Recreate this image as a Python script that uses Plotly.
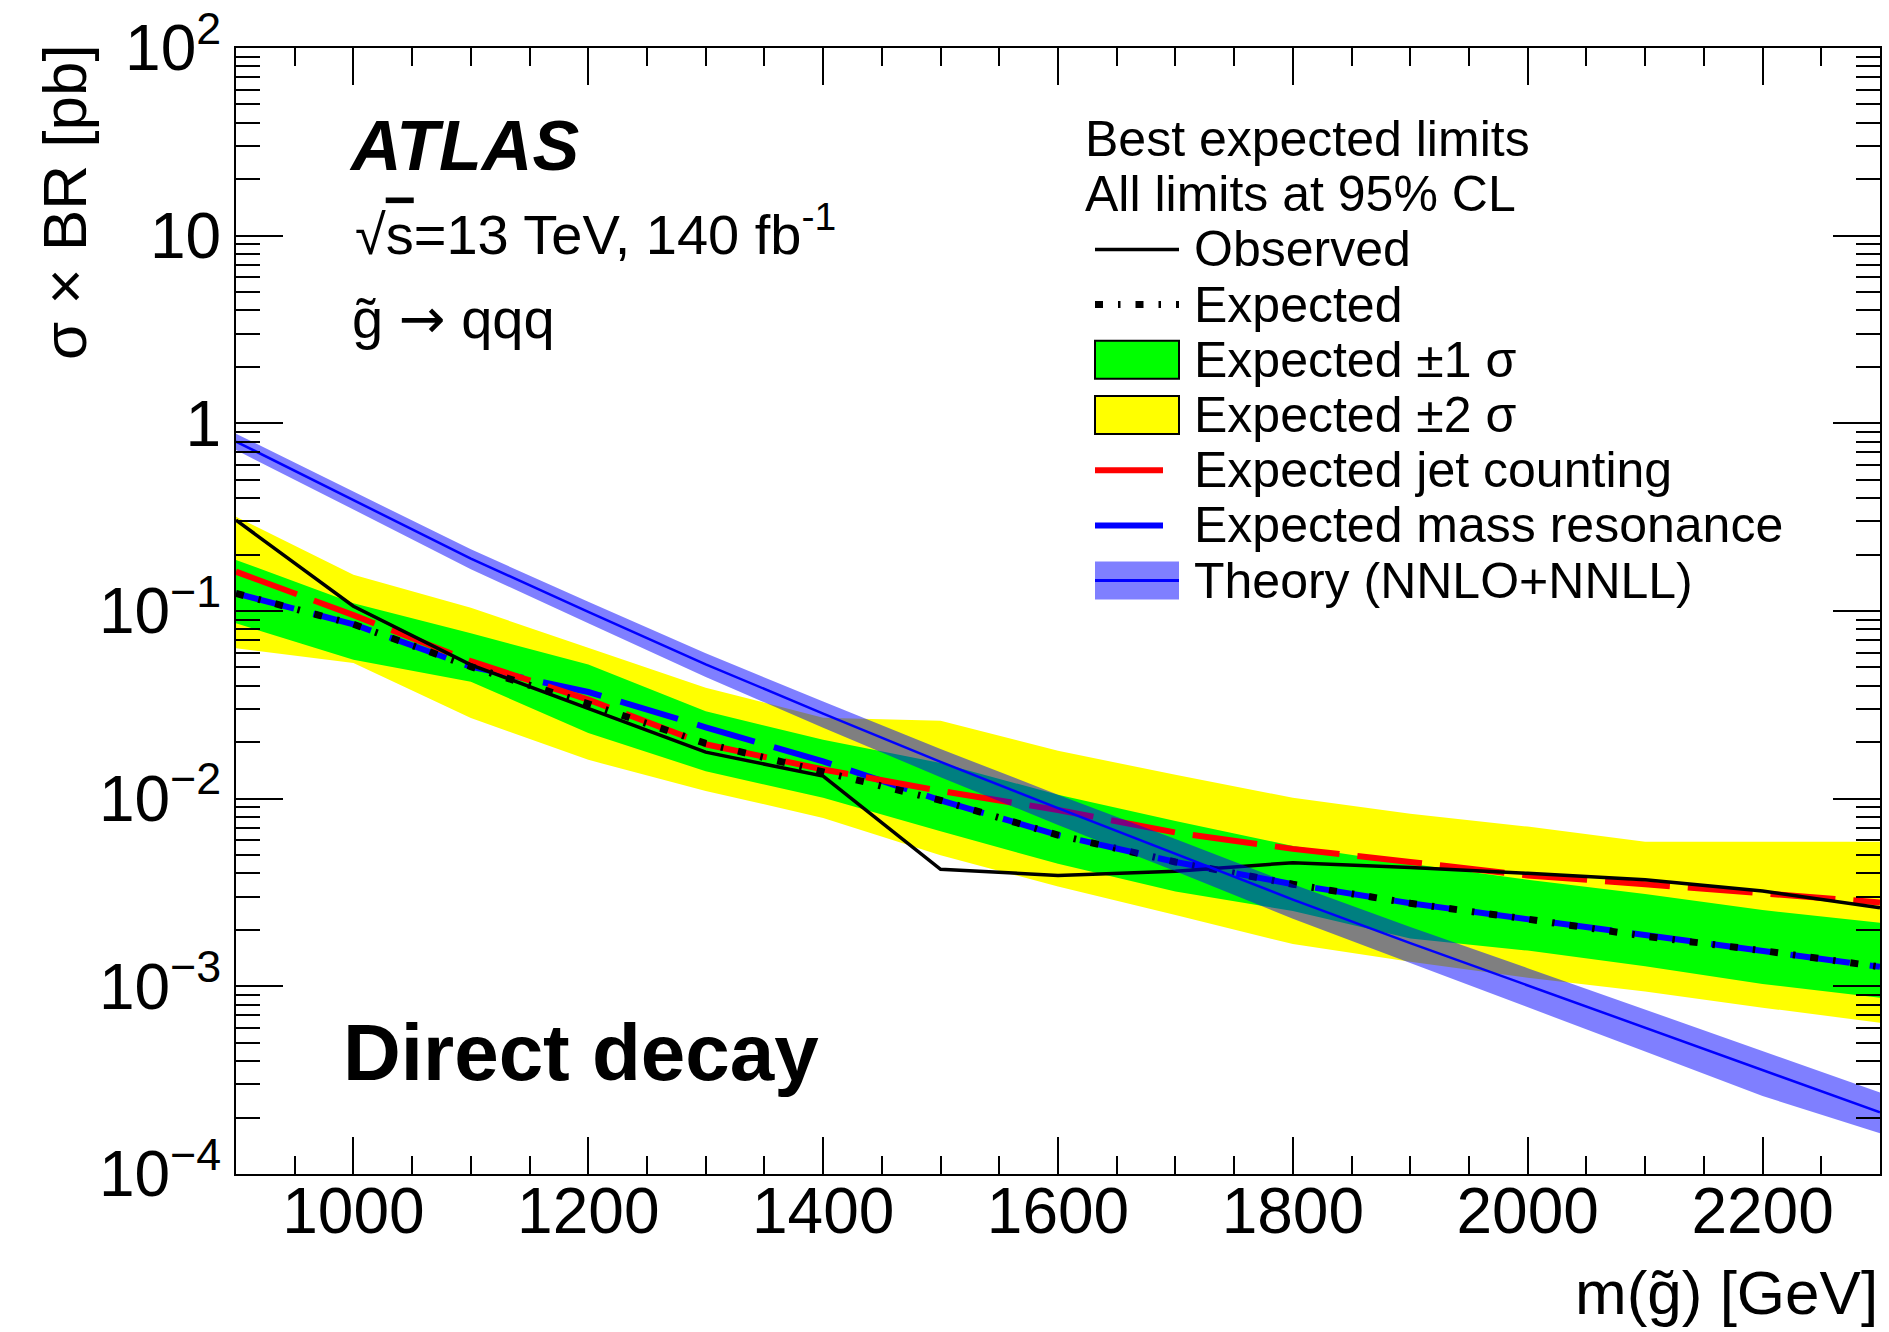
import plotly.graph_objects as go

# ---------------- data ----------------
mass = [900, 1000, 1100, 1200, 1300, 1400, 1500, 1600, 1700, 1800, 1900, 2000, 2100, 2200, 2300]

observed = [0.305, 0.106, 0.0517, 0.0304, 0.0177, 0.0132, 0.0042, 0.0039, 0.0041, 0.00456,
            0.0043, 0.0040, 0.0037, 0.00322, 0.00262]
expected = [0.124, 0.085, 0.0505, 0.032, 0.0197, 0.0139, 0.0098, 0.0064, 0.0046, 0.0035,
            0.00277, 0.00228, 0.00185, 0.00155, 0.00127]
exp_jet_counting = [0.162, 0.095, 0.054, 0.0337, 0.0195, 0.0143, 0.011, 0.0087, 0.0066, 0.0054,
                    0.0046, 0.0039, 0.0035, 0.00315, 0.0028]
exp_mass_resonance = [0.124, 0.085, 0.0505, 0.037, 0.024, 0.0158, 0.0098, 0.0064, 0.0046, 0.0035,
                      0.00277, 0.00228, 0.00185, 0.00155, 0.00127]
exp_plus1 = [0.187, 0.110, 0.076, 0.0518, 0.0292, 0.0206, 0.0155, 0.0105, 0.0076, 0.0056,
             0.0045, 0.0037, 0.0031, 0.00255, 0.00218]
exp_minus1 = [0.086, 0.055, 0.042, 0.0224, 0.014, 0.0101, 0.0067, 0.0045, 0.0032, 0.00252,
              0.0018, 0.00155, 0.00128, 0.00103, 0.00087]
exp_plus2 = [0.318, 0.156, 0.104, 0.0634, 0.039, 0.027, 0.026, 0.018, 0.0134, 0.0101,
             0.0083, 0.0071, 0.0059, 0.0059, 0.0059]
exp_minus2 = [0.0634, 0.0528, 0.0269, 0.0161, 0.011, 0.0079, 0.0050, 0.0034, 0.0024, 0.00168,
              0.00135, 0.00111, 0.00094, 0.00077, 0.00064]
theory = [0.80, 0.39, 0.19, 0.099, 0.052, 0.0284, 0.0157, 0.0089, 0.0051, 0.0029,
          0.0017, 0.00101, 0.0006, 0.000356, 0.000213]
theory_up = [0.88, 0.433, 0.213, 0.112, 0.0595, 0.0329, 0.0184, 0.0105, 0.0061, 0.0035,
             0.00207, 0.00125, 0.00075, 0.00045, 0.000272]
theory_down = [0.72, 0.347, 0.167, 0.0861, 0.0445, 0.0239, 0.0130, 0.00725, 0.0041, 0.00229,
               0.00133, 0.00077, 0.00045, 0.00026, 0.000165]

x_tick_vals = [1000, 1200, 1400, 1600, 1800, 2000, 2200]
y_tick_vals = [1e-4, 1e-3, 1e-2, 1e-1, 1, 10, 100]
y_tick_text = ["10<sup>\u22124</sup>", "10<sup>\u22123</sup>", "10<sup>\u22122</sup>",
               "10<sup>\u22121</sup>", "1", "10", "10<sup>2</sup>"]

legend_header = ["Best expected limits", "All limits at 95% CL"]
legend_labels = ["Observed", "Expected", "Expected \u00b11 \u03c3", "Expected \u00b12 \u03c3",
                 "Expected jet counting", "Expected mass resonance", "Theory (NNLO+NNLL)"]

# ---------------- styles ----------------
W, H = 1889, 1332
ML, MR, MT, MB = 236, 9, 48, 158
PW, PH = W - ML - MR, H - MT - MB
FONT = "Liberation Sans, Arial, Helvetica, sans-serif"

YELLOW = "#ffff00"
GREEN = "#00ff00"
RED = "#ff0000"
BLUE = "#0000ff"
THEORY_FILL = "rgba(0,0,255,0.5)"
EXP_DASH = "8px,15px,2.5px,15px"
RED_DASH = "65px,18px"
BLUE_DASH = "60px,20px"


def X(px):
    return (px - ML) / PW


def Y(py):
    return (MT + PH - py) / PH


fig = go.Figure()

# bands
fig.add_trace(go.Scatter(x=mass + mass[::-1], y=exp_plus2 + exp_minus2[::-1], fill="toself",
                         fillcolor=YELLOW, line=dict(width=0), mode="lines", hoverinfo="skip"))
fig.add_trace(go.Scatter(x=mass + mass[::-1], y=exp_plus1 + exp_minus1[::-1], fill="toself",
                         fillcolor=GREEN, line=dict(width=0), mode="lines", hoverinfo="skip"))
# limit lines
fig.add_trace(go.Scatter(x=mass, y=exp_mass_resonance, mode="lines",
                         line=dict(color=BLUE, width=6, dash=BLUE_DASH)))
fig.add_trace(go.Scatter(x=mass, y=exp_jet_counting, mode="lines",
                         line=dict(color=RED, width=6, dash=RED_DASH)))
fig.add_trace(go.Scatter(x=mass, y=expected, mode="lines",
                         line=dict(color="black", width=7, dash=EXP_DASH)))
fig.add_trace(go.Scatter(x=mass, y=observed, mode="lines",
                         line=dict(color="black", width=3.5)))
# theory
fig.add_trace(go.Scatter(x=mass + mass[::-1], y=theory_up + theory_down[::-1], fill="toself",
                         fillcolor=THEORY_FILL, line=dict(width=0), mode="lines", hoverinfo="skip"))
fig.add_trace(go.Scatter(x=mass, y=theory, mode="lines", line=dict(color=BLUE, width=2.5)))

x_minor = [v for v in range(900, 2301, 50) if v % 200 != 0]
y_minor = [m * 10 ** e for e in range(-4, 2) for m in range(2, 10)]

fig.update_xaxes(range=[900, 2300], showline=True, linecolor="black", linewidth=2, mirror="ticks",
                 ticks="inside", ticklen=37, tickwidth=2, tickcolor="black",
                 tickvals=x_tick_vals, ticktext=[str(v) for v in x_tick_vals],
                 tickfont=dict(size=64, color="black", family=FONT), ticklabelstandoff=-20,
                 showgrid=False, zeroline=False,
                 minor=dict(tickvals=x_minor, ticks="inside", ticklen=18, tickwidth=2,
                            tickcolor="black", showgrid=False))
fig.update_yaxes(type="log", range=[-4, 2], showline=True, linecolor="black", linewidth=2,
                 mirror="ticks", ticks="inside", ticklen=47, tickwidth=2, tickcolor="black",
                 tickvals=y_tick_vals, ticktext=y_tick_text,
                 tickfont=dict(size=64, color="black", family=FONT), ticklabelstandoff=0,
                 showgrid=False, zeroline=False,
                 minor=dict(tickvals=y_minor, ticks="inside", ticklen=24, tickwidth=2,
                            tickcolor="black", showgrid=False))

ann = []
# axis titles
ann.append(dict(text="m(g\u0303) [GeV]", x=X(1880), y=Y(1292), xanchor="right", yanchor="middle",
                font=dict(size=62, family=FONT, color="black")))
ann.append(dict(text="\u03c3 \u00d7 BR [pb]", x=X(64), y=Y(42), xanchor="center", yanchor="top",
                textangle=-90, font=dict(size=62, family=FONT, color="black")))
# labels
ann.append(dict(text="<b><i>ATLAS</i></b>", x=X(347), y=Y(146), xanchor="left", yanchor="middle",
                font=dict(size=70, family=FONT, color="black")))
ann.append(dict(text="\u221a<span style=\"text-decoration:overline\">s</span>=13 TeV, 140 fb<sup>-1</sup>",
                x=X(353), y=Y(230), xanchor="left",
                yanchor="middle", font=dict(size=56, family=FONT, color="black")))
ann.append(dict(text="g\u0303 <span style=\"font-family:DejaVu Sans\">\u2192</span> qqq", x=X(350),
                y=Y(318), xanchor="left", yanchor="middle",
                font=dict(size=56, family=FONT, color="black")))
ann.append(dict(text="<b>Direct decay</b>", x=X(341), y=Y(1052), xanchor="left", yanchor="middle",
                font=dict(size=80, family=FONT, color="black")))

# legend (drawn as shapes + text)
row0, step = 139, 55.2
rows = [row0 + i * step for i in range(9)]
for i, t in enumerate(legend_header):
    ann.append(dict(text=t, x=X(1083), y=Y(rows[i]), xanchor="left", yanchor="middle",
                    font=dict(size=50, family=FONT, color="black")))
for i, t in enumerate(legend_labels):
    ann.append(dict(text=t, x=X(1192), y=Y(rows[i + 2]), xanchor="left", yanchor="middle",
                    font=dict(size=50, family=FONT, color="black")))

shapes = []
sx0, sx1 = 1095, 1179


def hline(py, color, width, dash="solid", x1=sx1):
    shapes.append(dict(type="line", xref="paper", yref="paper", x0=X(sx0), x1=X(x1),
                       y0=Y(py), y1=Y(py), line=dict(color=color, width=width, dash=dash)))


def box(py, fill, border):
    shapes.append(dict(type="rect", xref="paper", yref="paper", x0=X(sx0), x1=X(sx1),
                       y0=Y(py - 19), y1=Y(py + 19), fillcolor=fill,
                       line=dict(color=border if border else fill, width=2 if border else 0)))


hline(rows[2], "black", 3.5)
hline(rows[3], "black", 7, EXP_DASH)
box(rows[4], GREEN, "black")
box(rows[5], YELLOW, "black")
hline(rows[6], RED, 6, x1=1163)
hline(rows[7], BLUE, 6, x1=1163)
box(rows[8], THEORY_FILL, None)
hline(rows[8], BLUE, 3)

for a in ann:
    a.update(xref="paper", yref="paper", showarrow=False)

fig.update_layout(width=W, height=H, margin=dict(l=ML, r=MR, t=MT, b=MB, autoexpand=False),
                  paper_bgcolor="white", plot_bgcolor="white", showlegend=False,
                  font=dict(family=FONT, color="black"), annotations=ann, shapes=shapes)

fig.write_html("out.html")
